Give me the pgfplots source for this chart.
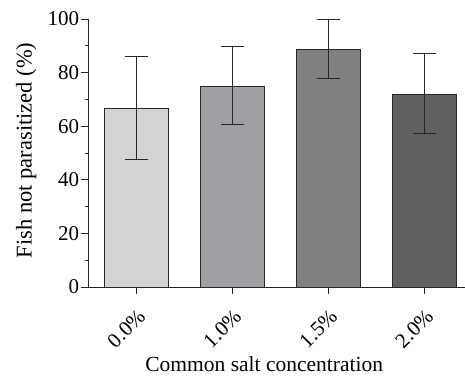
\documentclass[border=0pt]{standalone}
\usepackage{pgfplots}
\pgfplotsset{compat=1.18}
\usepackage{fontspec}
\setmainfont{Liberation Serif}
\definecolor{c1}{RGB}{212,212,212}
\definecolor{c2}{RGB}{160,160,164}
\definecolor{c3}{RGB}{128,128,128}
\definecolor{c4}{RGB}{96,96,96}
\begin{document}
\begin{tikzpicture}
\useasboundingbox (-88.3pt,-91pt) rectangle (376.7pt,287pt);
\begin{axis}[
  scale only axis,
  width=376.7pt, height=268pt,
  at={(0,0)}, anchor=south west,
  ymin=0, ymax=100,
  xmin=-0.504, xmax=3.42,
  axis x line*=bottom, axis y line*=left,
  axis line style={line width=1pt, color=black!85},
  ytick={0,20,40,60,80,100},
  minor ytick={10,30,50,70,90},
  xtick={0,1,2,3},
  xticklabels={0.0\%,1.0\%,1.5\%,2.0\%},
  tick align=outside,
  major tick length=7pt, minor tick length=3.5pt,
  tick style={line width=1pt, color=black!85},
  /pgf/number format/assume math mode=true,
  tick label style={font=\fontsize{21}{25}\selectfont},
  xticklabel style={rotate=45, anchor=north east, inner sep=0pt},
  xticklabel shift=14pt,
  yticklabel style={inner sep=2pt},
  label style={font=\fontsize{21.5}{25}\selectfont},
  xlabel={Common salt concentration},
  ylabel={Fish not parasitized (\%)},
  xlabel style={at={(axis description cs:0.467,-0.316)}, anchor=base, inner sep=0pt},
  ylabel style={at={(axis description cs:-0.1645,0.51)}, anchor=center, font=\fontsize{22.5}{26}\selectfont},
  ybar, bar width=64pt, bar shift=0pt,
  clip=false,
  every axis plot/.append style={draw=black!85, line width=1pt},
  error bars/y dir=both, error bars/y explicit,
  error bars/error bar style={line width=1pt, color=black!85},
  error bars/error mark options={rotate=90, mark size=11.7pt, line width=1pt, color=black!85},
]
\addplot[fill=c1] coordinates {(0,66.7) += (0,19.2) -= (0,19.3)};
\addplot[fill=c2] coordinates {(1,75.0) += (0,14.6) -= (0,14.4)};
\addplot[fill=c3] coordinates {(2,88.8) += (0,11.2) -= (0,11.0)};
\addplot[fill=c4] coordinates {(3,72.0) += (0,15.2) -= (0,14.6)};
\end{axis}
\end{tikzpicture}
\end{document}
